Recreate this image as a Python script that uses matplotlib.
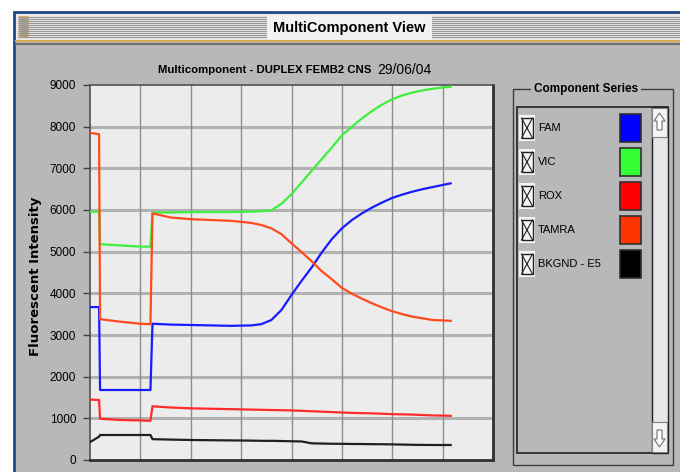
import matplotlib
matplotlib.use("Agg")  # no display
import matplotlib.pyplot as plt
from matplotlib.patches import Rectangle, Polygon

NARROW = ["Liberation Sans", "DejaVu Sans"]

# reading index (x) and the five component series
cycle = [0, 0.9, 1.0, 3, 5, 6.0, 6.2, 8, 10, 12, 14, 16, 17, 18, 19, 20,
         21, 22, 23, 24, 25, 26, 27, 28, 29, 30, 31, 32, 33, 34, 35, 35.8]
fam = [3670, 3670, 1680, 1680, 1680, 1680, 3270, 3250, 3240, 3230, 3220, 3230,
       3260, 3360, 3600, 3960, 4300, 4620, 4980, 5300, 5560, 5760, 5920, 6060,
       6180, 6290, 6370, 6440, 6500, 6550, 6600, 6640]
vic = [5960, 5960, 5180, 5150, 5120, 5120, 5940, 5940, 5950, 5950, 5950, 5960,
       5970, 5990, 6150, 6380, 6660, 6940, 7220, 7500, 7790, 8000, 8200, 8380,
       8530, 8660, 8750, 8820, 8870, 8910, 8940, 8960]
rox = [1450, 1440, 990, 960, 950, 940, 1290, 1260, 1240, 1230, 1220, 1210,
       1205, 1200, 1195, 1190, 1180, 1170, 1160, 1150, 1140, 1130, 1125, 1120,
       1110, 1100, 1095, 1090, 1080, 1070, 1065, 1060]
tamra = [7850, 7820, 3380, 3320, 3270, 3260, 5920, 5820, 5780, 5760, 5740, 5690,
         5640, 5560, 5420, 5200, 4990, 4770, 4530, 4340, 4130, 3990, 3870, 3760,
         3660, 3570, 3500, 3440, 3400, 3360, 3350, 3340]
bkgnd = [430, 560, 600, 600, 600, 600, 500, 490, 480, 475, 470, 465,
         460, 460, 455, 450, 445, 400, 395, 390, 388, 385, 383, 380,
         378, 375, 370, 365, 362, 360, 360, 360]

series_names = ["FAM", "VIC", "ROX", "TAMRA", "BKGND - E5"]
series_values = [fam, vic, rox, tamra, bkgnd]
line_colors = ["#1a1aff", "#3cf03c", "#ff2a2a", "#ff4a1e", "#202020"]
swatch_colors = ["#0000ff", "#33ff33", "#ff0000", "#ff3300", "#000000"]
y_ticks = [0, 1000, 2000, 3000, 4000, 5000, 6000, 7000, 8000, 9000]
x_grid = [5, 10, 15, 20, 25, 30, 35]

fig = plt.figure(figsize=(6.8, 4.72), dpi=100)
fig.patch.set_facecolor("white")

# 背景层：窗口外框、标题栏、图例面板（像素坐标）
bg = fig.add_axes([0, 0, 1, 1])
bg.set_xlim(0, 680)
bg.set_ylim(472, 0)
bg.axis("off")

bg.add_patch(Rectangle((14, 12), 700, 480, fc="#b8b8b8", ec="#1f4a85", lw=2))
bg.add_patch(Rectangle((16, 14), 670, 27, fc="#e8e8e8", ec="none"))
for yy in range(17, 39, 2):
    bg.plot([18, 266], [yy, yy], color="#989898", lw=0.8)
    bg.plot([432, 680], [yy, yy], color="#989898", lw=0.8)
bg.add_patch(Rectangle((267, 15), 165, 25, fc="#f2f2f2", ec="none"))
bg.add_patch(Rectangle((20, 17), 8, 20, fc="#a0a0a0", ec="#e8a040", lw=1.2))
bg.plot([16, 680], [41, 41], color="#d8a850", lw=1.5)
bg.plot([16, 680], [44, 44], color="#707070", lw=1.5)
bg.text(349, 28, "MultiComponent View", ha="center", va="center",
        fontsize=10.5, fontweight="bold", family=NARROW)

# chart title
bg.text(371, 70, "Multicomponent - DUPLEX FEMB2 CNS", ha="right", va="center",
        fontsize=8.2, fontweight="bold", family=NARROW)
bg.text(377, 70, "29/06/04", ha="left", va="center", fontsize=10, family=NARROW)

bg.text(36, 276, "Fluorescent Intensity", rotation=90, ha="center", va="center",
        fontsize=9.5, fontweight="bold")

# legend group box
bg.add_patch(Rectangle((513, 89), 160, 376, fc="none", ec="#3c3c3c", lw=1))
bg.text(586, 89, "Component Series", ha="center", va="center", fontsize=8.5,
        fontweight="bold", family=NARROW,
        bbox=dict(fc="#b8b8b8", ec="none", pad=2))
bg.add_patch(Rectangle((517, 107), 151, 346, fc="#b8b8b8", ec="#202020", lw=1.2))
bg.add_patch(Rectangle((652, 107), 16, 346, fc="#e6e6e6", ec="#202020", lw=1))
bg.add_patch(Rectangle((652, 108), 15, 29, fc="#f4f4f4", ec="#808080", lw=0.8))
bg.add_patch(Rectangle((652, 422), 15, 30, fc="#f4f4f4", ec="#808080", lw=0.8))
bg.add_patch(Polygon([(659.5, 113), (665, 121), (662, 121), (662, 130), (657, 130),
                      (657, 121), (654, 121)], closed=True, fc="white", ec="#707070", lw=0.8))
bg.add_patch(Polygon([(659.5, 447), (665, 439), (662, 439), (662, 430), (657, 430),
                      (657, 439), (654, 439)], closed=True, fc="white", ec="#707070", lw=0.8))

for i, (name, col) in enumerate(zip(series_names, swatch_colors)):
    yc = 128 + i * 34
    bg.add_patch(Rectangle((519, yc - 13), 16, 26, fc="#f4f4f4", ec="none"))
    bg.add_patch(Rectangle((521.5, yc - 10), 11, 20, fc="none", ec="#202020", lw=1))
    bg.plot([521.5, 532.5], [yc - 10, yc + 10], color="#202020", lw=0.8)
    bg.plot([521.5, 532.5], [yc + 10, yc - 10], color="#202020", lw=0.8)
    bg.text(538, yc, name, ha="left", va="center", fontsize=8, family=NARROW)
    bg.add_patch(Rectangle((620, yc - 14), 21, 28, fc=col, ec="#303030", lw=1.2))

# 数据层
ax = fig.add_axes([90 / 680, 12 / 472, 403 / 680, 375 / 472])
ax.set_facecolor("#ececec")
ax.set_xlim(0, 40)
ax.set_ylim(0, 9000)
for yv in y_ticks[1:-1]:
    ax.axhline(yv, color="#b2b2b2", lw=2.2, zorder=1)
for xv in x_grid:
    ax.axvline(xv, color="#8c8c8c", lw=1.0, zorder=1)

for vals, col in zip(series_values, line_colors):
    ax.plot(cycle, vals, color=col, lw=1.6, zorder=3)

ax.set_xticks([])
ax.set_yticks(y_ticks)
ax.set_yticklabels([str(v) for v in y_ticks], family=NARROW, fontsize=8.5)
ax.tick_params(axis="y", direction="out", length=5, width=1, color="#404040", pad=5)
for side in ["left", "top"]:
    ax.spines[side].set_color("#505050")
    ax.spines[side].set_linewidth(1.2)
for side in ["right", "bottom"]:
    ax.spines[side].set_color("#303030")
    ax.spines[side].set_linewidth(2)

fig.savefig("out.png", dpi=100)
